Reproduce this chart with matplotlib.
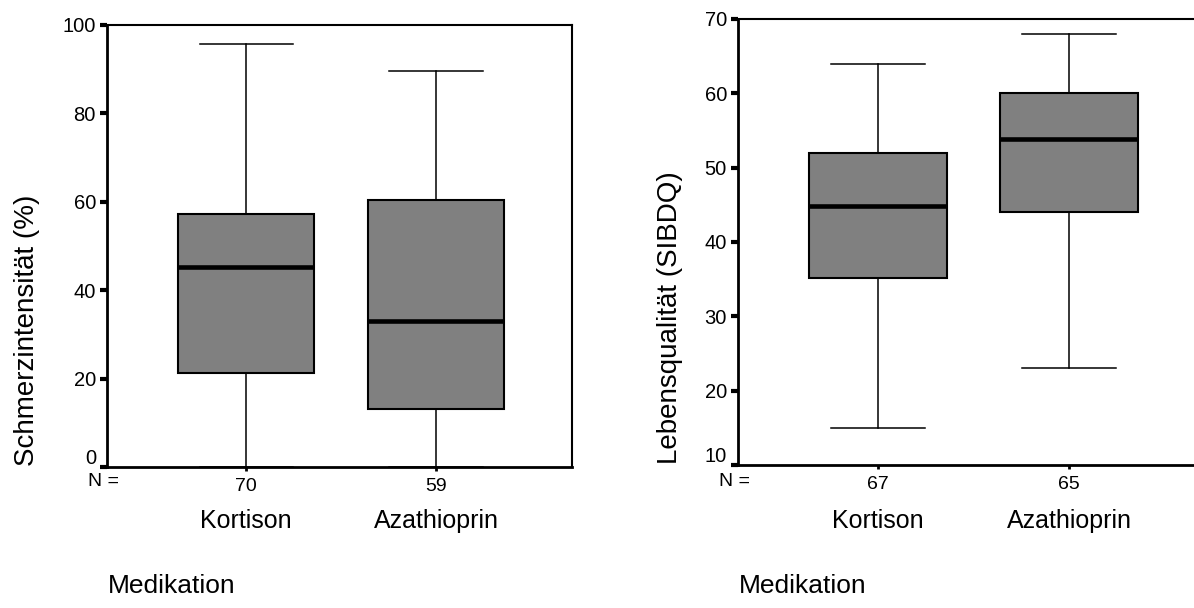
import matplotlib
matplotlib.use("Agg")
import matplotlib.pyplot as plt
from matplotlib.transforms import ScaledTranslation

plt.rcParams['font.family'] = ['Liberation Sans', 'DejaVu Sans']

# ---- data ----
categories = ["Kortison", "Azathioprin"]
n_left = [70, 59]
n_right = [67, 65]

# Schmerzintensität (%)
pain_whislo = [0.0, 0.0]
pain_q1 = [21.3, 13.2]
pain_med = [45.2, 33.0]
pain_q3 = [57.3, 60.5]
pain_whishi = [95.8, 89.5]

# Lebensqualität (SIBDQ)
qol_whislo = [15.0, 23.0]
qol_q1 = [35.1, 44.0]
qol_med = [44.8, 53.9]
qol_q3 = [52.0, 60.0]
qol_whishi = [64.0, 68.0]

left_ticks = [0, 20, 40, 60, 80, 100]
right_ticks = [10, 20, 30, 40, 50, 60, 70]

W, H = 1194, 608
fig = plt.figure(figsize=(W / 100, H / 100), dpi=100)

TICK_FS = 14.5
N_FS = 14
CAT_FS = 18
MED_FS = 19
YLAB_FS = 20


def px_rect(x0, y0, x1, y1):
    return [x0 / W, 1 - y1 / H, (x1 - x0) / W, (y1 - y0) / H]


def make_stats(lo, q1, med, q3, hi, labels):
    return [dict(whislo=lo[i], q1=q1[i], med=med[i], q3=q3[i], whishi=hi[i],
                 fliers=[], label=labels[i]) for i in range(len(labels))]


def draw_panel(rect, stats, ylim, yticks, nvals, base_y):
    ax = fig.add_axes(rect)
    ax.bxp(stats, positions=[1, 2], widths=0.72, patch_artist=True,
           showfliers=False,
           boxprops=dict(facecolor='#808080', edgecolor='black', linewidth=1.5),
           medianprops=dict(color='black', linewidth=3.3, solid_capstyle='butt'),
           whiskerprops=dict(color='black', linewidth=1.1),
           capprops=dict(color='black', linewidth=1.1),
           capwidths=0.49)
    ax.set_xlim(0.268, 2.716)
    ax.set_ylim(*ylim)
    ax.set_yticks(yticks)
    ax.set_yticklabels([str(t) for t in yticks])
    ax.set_xticks([1, 2])
    ax.set_xticklabels([str(v) for v in nvals])
    for s in ax.spines.values():
        s.set_linewidth(1.5)
    ax.spines['left'].set_linewidth(2)
    ax.spines['bottom'].set_linewidth(2)
    ax.tick_params(axis='y', direction='out', length=5, width=3, pad=3,
                   labelsize=TICK_FS)
    ax.tick_params(axis='x', direction='out', length=3, width=2, pad=5,
                   labelsize=N_FS)
    # shift bottom tick label upward (as in the original)
    lab0 = ax.get_yticklabels()[0]
    lab0.set_transform(lab0.get_transform() +
                       ScaledTranslation(0, 11 / 100, fig.dpi_scale_trans))
    # category names
    for i, c in enumerate(categories):
        ax.text(i + 1, 0, c, ha='center', va='center', fontsize=CAT_FS,
                transform=ax.get_xaxis_transform() +
                ScaledTranslation(0, -(521 - base_y) / 100, fig.dpi_scale_trans))
    return ax


ax1 = draw_panel(px_rect(107, 25, 572, 467),
                 make_stats(pain_whislo, pain_q1, pain_med, pain_q3, pain_whishi, categories),
                 (0, 100), left_ticks, n_left, 467)
ax2 = draw_panel(px_rect(738, 19, 1206, 465),
                 make_stats(qol_whislo, qol_q1, qol_med, qol_q3, qol_whishi, categories),
                 (10, 70), right_ticks, n_right, 465)

# N = labels
fig.text(104 / W, 1 - 482 / H, "N =", ha='center', va='center', fontsize=N_FS)
fig.text(735 / W, 1 - 482 / H, "N =", ha='center', va='center', fontsize=N_FS)

# Medikation labels
fig.text(108 / W, 1 - 586 / H, "Medikation", ha='left', va='center', fontsize=MED_FS)
fig.text(739 / W, 1 - 586 / H, "Medikation", ha='left', va='center', fontsize=MED_FS)

# y-axis titles (bottom-aligned with axes)
fig.text(27 / W, 1 - 466 / H, "Schmerzintensität (%)", rotation=90,
         ha='center', va='bottom', fontsize=YLAB_FS)
fig.text(670 / W, 1 - 464 / H, "Lebensqualität (SIBDQ)", rotation=90,
         ha='center', va='bottom', fontsize=YLAB_FS)

fig.savefig("out.png", dpi=100)
